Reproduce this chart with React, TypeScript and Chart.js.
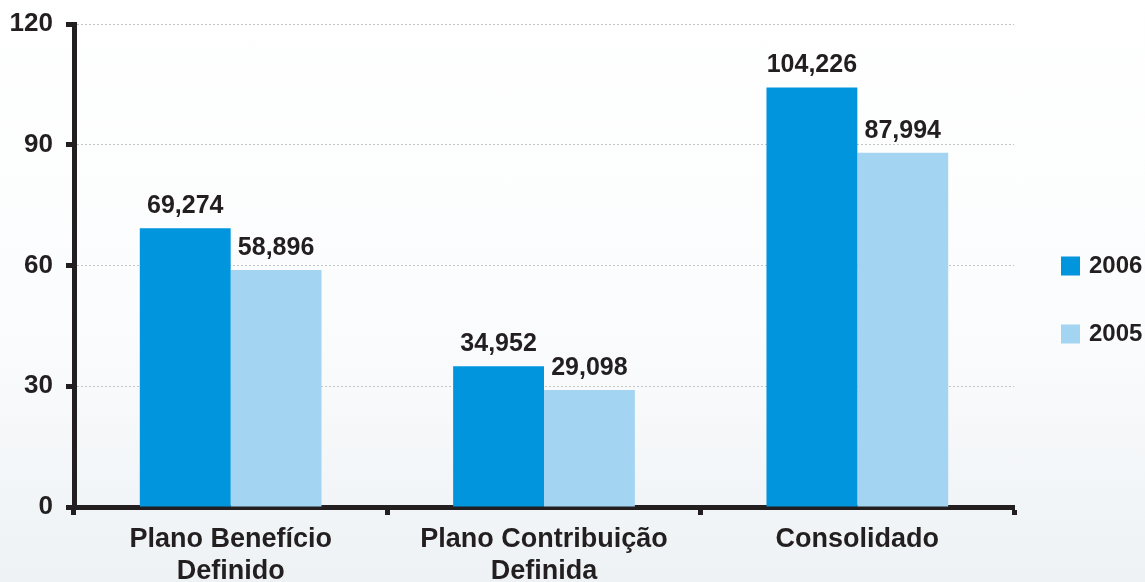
import React, { useEffect, useRef } from "react";
import { Chart, registerables } from "chart.js";

Chart.register(...registerables);

const categories: string[][] = [
  ["Plano Benefício", "Definido"],
  ["Plano Contribuição", "Definida"],
  ["Consolidado"],
];
const seriesNames = ["2006", "2005"];
const values2006 = [69.274, 34.952, 104.226];
const values2005 = [58.896, 29.098, 87.994];
const yMin = 0;
const yMax = 120;
const yStep = 30;

const FONT = '"Liberation Sans", Arial, Helvetica, sans-serif';
const TEXT = "#231F20";
const DARK = "#0095DD";
const LIGHT = "#A3D5F3";

const fmt = (v: number) => v.toFixed(3).replace(".", ",");

const labelPlugin = {
  id: "valueLabelsAndLegend",
  afterDatasetsDraw(chart: any) {
    const ctx = chart.ctx as CanvasRenderingContext2D;
    ctx.save();
    ctx.font = `bold 25px ${FONT}`;
    ctx.fillStyle = TEXT;
    ctx.textAlign = "center";
    ctx.textBaseline = "alphabetic";
    chart.data.datasets.forEach((ds: any, di: number) => {
      const meta = chart.getDatasetMeta(di);
      meta.data.forEach((bar: any, i: number) => {
        ctx.fillText(fmt(ds.data[i] as number), bar.x, bar.y - 15);
      });
    });
    // legend
    const area = chart.chartArea;
    const cy = (area.top + area.bottom) / 2;
    chart.data.datasets.forEach((ds: any, di: number) => {
      const y = cy + di * 68;
      ctx.fillStyle = ds.backgroundColor;
      ctx.fillRect(area.right + 47, y - 9, 19, 19);
      ctx.fillStyle = TEXT;
      ctx.font = `bold 24px ${FONT}`;
      ctx.textAlign = "left";
      ctx.textBaseline = "middle";
      ctx.fillText(ds.label, area.right + 75, y + 1);
    });
    ctx.restore();
  },
};

export default function App() {
  const ref = useRef<HTMLCanvasElement | null>(null);
  useEffect(() => {
    if (!ref.current) return;
    const chart = new Chart(ref.current, {
      type: "bar",
      data: {
        labels: categories,
        datasets: [
          { label: seriesNames[0], data: values2006, backgroundColor: DARK },
          { label: seriesNames[1], data: values2005, backgroundColor: LIGHT },
        ],
      },
      options: {
        animation: false,
        responsive: false,
        devicePixelRatio: 1,
        events: [],
        layout: { padding: { top: 24, right: 131, left: 0, bottom: 0 } },
        datasets: { bar: { barPercentage: 1, categoryPercentage: 0.58 } } as any,
        plugins: {
          legend: { display: false },
          tooltip: { enabled: false },
        },
        scales: {
          x: {
            offset: true,
            grid: {
              offset: true,
              drawOnChartArea: false,
              drawTicks: true,
              tickLength: 8,
              tickWidth: 5,
              tickColor: TEXT,
            } as any,
            border: { display: true, color: TEXT, width: 5 },
            ticks: {
              color: TEXT,
              font: { family: FONT, size: 27, weight: "bold", lineHeight: 32 / 27 },
              padding: 9,
              maxRotation: 0,
              autoSkip: false,
            },
            afterFit: (scale: any) => {
              scale.height = 75;
            },
          },
          y: {
            min: yMin,
            max: yMax,
            ticks: {
              stepSize: yStep,
              color: TEXT,
              font: { family: FONT, size: 26, weight: "bold" },
              padding: 13,
            },
            grid: {
              color: "#C4C4C4",
              lineWidth: 1,
              drawTicks: true,
              tickLength: 8,
              tickWidth: 5,
              tickColor: TEXT,
              tickBorderDash: [],
            } as any,
            border: { display: true, color: TEXT, width: 5, dash: [2, 2] } as any,
            afterFit: (scale: any) => {
              scale.width = 74;
              scale.paddingTop = 0;
              scale.paddingBottom = 0;
            },
          },
        },
      },
      plugins: [labelPlugin],
    });
    return () => chart.destroy();
  }, []);

  return (
    <div
      style={{
        position: "absolute",
        left: 0,
        top: 0,
        width: 1145,
        height: 582,
        overflow: "hidden",
        background:
          "linear-gradient(to bottom, #ffffff 0%, #fbfcfd 55%, #eef2f5 100%)",
      }}
    >
      <canvas ref={ref} width={1145} height={582} style={{ display: "block" }} />
    </div>
  );
}
